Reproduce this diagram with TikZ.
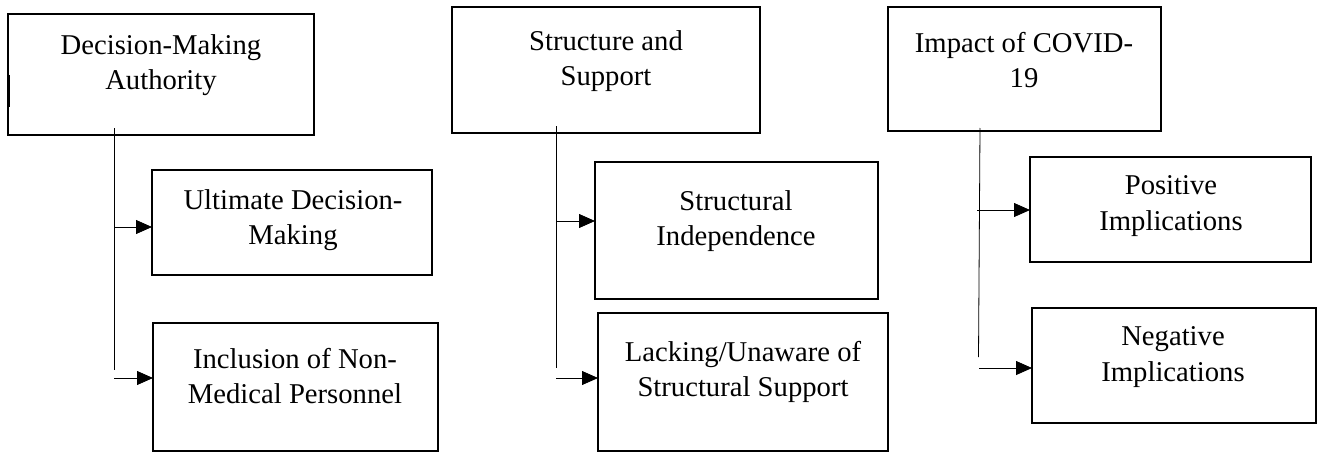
\documentclass[tikz,border=0pt]{standalone}
\usepackage{fontspec}
\setmainfont{Liberation Serif}
\usetikzlibrary{arrows.meta}
\newcommand{\bx}[5]{\node[box, minimum width={(#4-#2)*0.75pt}, minimum height={(#5-#3)*0.75pt}] (#1) at ({(#2+#4)/2},{(#3+#5)/2}) {};}
\tikzset{
  box/.style={draw, line width=1pt, inner sep=0pt, outer sep=0pt},
  txt/.style={align=center, inner sep=0pt, font=\fontsize{21.5}{26.5}\selectfont},
  trunk/.style={line width=0.6pt},
  arr/.style={line width=0.6pt, -{Triangle[length=12pt,width=10.5pt]}}
}
\begin{document}
\begin{tikzpicture}[x=0.75pt,y=-0.75pt]
\useasboundingbox (0,0) rectangle (1317,453);
% column 1
\bx{a}{8}{14}{314}{135}
\node[txt] (at) at (161,65) {Decision-Making\\Authority};
\draw[line width=2.2pt] (9,75) -- (9,107);
\bx{b1}{152}{170}{432}{275}
\node[txt] (b1t) at (293,220) {Ultimate Decision-\\Making};
\bx{b2}{153}{323}{438}{451}
\node[txt] (b2t) at (295,376) {Inclusion of Non-\\Medical Personnel};
\coordinate (a1) at (114,128);
\coordinate (a2) at (114,370);
\draw[trunk] (a1) -- (a2);
\coordinate (ab1) at (114,227);
\coordinate (ab2) at (114,378);
\draw[arr] (ab1) -- (b1.west |- ab1);
\draw[arr] (ab2) -- (b2.west |- ab2);
% column 2
\bx{c}{452}{7}{760}{133}
\node[txt] (ct) at (606,61) {Structure and\\Support};
\bx{d1}{595}{162}{878}{299}
\node[txt] (d1t) at (736,221) {Structural\\Independence};
\bx{d2}{598}{313}{888}{451}
\node[txt] (d2t) at (743,372) {Lacking/Unaware of\\Structural Support};
\coordinate (c1) at (556,126);
\coordinate (c2) at (556,368);
\draw[trunk] (c1) -- (c2);
\coordinate (cd1) at (556,221);
\coordinate (cd2) at (556,378);
\draw[arr] (cd1) -- (d1.west |- cd1);
\draw[arr] (cd2) -- (d2.west |- cd2);
% column 3
\bx{e}{888}{7}{1161}{131}
\node[txt] (et) at (1024,60) {Impact of COVID-\\19};
\bx{f1}{1030}{157}{1311}{262}
\node[txt] (f1t) at (1171,206) {Positive\\Implications};
\bx{f2}{1032}{308}{1316}{423}
\node[txt] (f2t) at (1173,357) {Negative\\Implications};
\coordinate (e1) at (980,128);
\coordinate (e2) at (978.5,357);
\draw[trunk] (e1) -- (e2);
\coordinate (ef1) at (977,210);
\coordinate (ef2) at (979,368);
\draw[arr] (ef1) -- (f1.west |- ef1);
\draw[arr] (ef2) -- (f2.west |- ef2);
\end{tikzpicture}
\end{document}
